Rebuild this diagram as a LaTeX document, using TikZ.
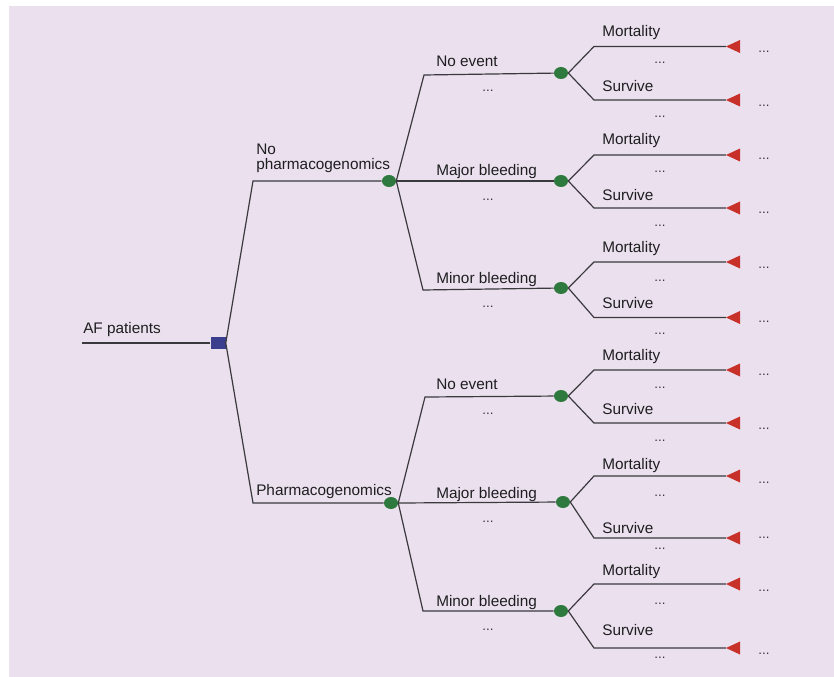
\documentclass[tikz,border=0pt]{standalone}
\usepackage{fontspec}
\setmainfont{Liberation Sans}
\usetikzlibrary{shapes.geometric}
\definecolor{bg}{RGB}{235,224,238}
\definecolor{edge}{RGB}{58,58,62}
\definecolor{decblue}{RGB}{58,62,140}
\definecolor{chgreen}{RGB}{46,122,62}
\definecolor{termred}{RGB}{200,48,42}
\definecolor{ink}{RGB}{30,30,32}
\definecolor{dotink}{RGB}{55,55,58}
\begin{document}
\begin{tikzpicture}[x=0.75pt,y=-0.75pt,
  branch/.style={draw=edge,line width=0.9pt,line join=miter},
  decision/.style={rectangle,fill=decblue,minimum width=11.25pt,minimum height=9pt,inner sep=0pt},
  chance/.style={ellipse,fill=chgreen,minimum width=10.5pt,minimum height=9pt,inner sep=0pt},
  terminal/.style={fill=termred},
  lbl/.style={anchor=base west,inner sep=0pt,text=ink,font=\fontsize{11.5}{13.5}\selectfont},
  more/.style={anchor=base,inner sep=0pt,text=dotink,font=\fontsize{10}{11}\selectfont}]
\useasboundingbox (0,0) rectangle (834,677);
\fill[bg] (9,6) rectangle (834,677);

% root decision
\coordinate (start) at (82,343);
\node[decision] (dec) at (218,343) {};
\draw[branch] (start) -- (dec.west);
\node[lbl] (lroot) at (83,333) {AF patients};

% strategy arms
\coordinate (sA) at (253,181);
\coordinate (sB) at (253,503);
\node[chance] (cA) at (389,181) {};
\node[chance] (cB) at (391,503) {};
\draw[branch] (dec.east) -- (sA) -- (cA);
\draw[branch] (dec.east) -- (sB) -- (cB);
\node[lbl] (lA1) at (256,155) {No};
\node[lbl] (lA2) at (256,170) {pharmacogenomics};
\node[lbl] (lB) at (256,495) {Pharmacogenomics};

% event chance nodes
\foreach \n/\x/\y in {A1/561/73, A2/561/181, A3/561/288, B1/561/396, B2/563/502, B3/561/611}
  \node[chance] (n\n) at (\x,\y) {};

\coordinate (kA1) at (424,75);
\coordinate (kA3) at (423,290);
\coordinate (kB1) at (425,397);
\coordinate (kB3) at (423,611);
\draw[branch] (cA.east) -- (kA1) -- (nA1);
\draw[branch] (cA.east) -- (nA2);
\draw[branch] (cA.east) -- (kA3) -- (nA3);
\draw[branch] (cB.east) -- (kB1) -- (nB1);
\draw[branch] (cB.east) -- (nB2);
\draw[branch] (cB.east) -- (kB3) -- (nB3);

% event labels
\foreach \t/\b/\d in {No event/67/92, Major bleeding/176/200, Minor bleeding/283/307,
                      No event/389/414, Major bleeding/498/522, Minor bleeding/606/630}{
  \node[lbl] at (436,\b) {\t};
  \node[more] at (488,\d) {...};
}

% outcome branches and terminal nodes
\foreach \n/\m/\s/\mb/\sb/\md/\sd/\mr/\sr in {
    A1/46.5/100/37/92/64/118/53/107,
    A2/155/208/145/200/172.5/226/160/214,
    A3/262/317.5/252/308/281/334/268/322,
    B1/370/423/360/414/388/441/375/429,
    B2/476/538/469/533/496/549/483/538,
    B3/584/648/575/635/604/658/591/654}{
  \coordinate (m\n) at (594,\m);
  \coordinate (s\n) at (594,\s);
  \coordinate (tm\n) at (726,\m);
  \coordinate (ts\n) at (726,\s);
  \draw[branch] (n\n.east) -- (m\n) -- (tm\n);
  \draw[branch] (n\n.east) -- (s\n) -- (ts\n);
  \fill[terminal] (tm\n) -- ++(14,-6.5) -- ++(0,13) -- cycle;
  \fill[terminal] (ts\n) -- ++(14,-6.5) -- ++(0,13) -- cycle;
  \node[lbl] at (602,\mb) {Mortality};
  \node[lbl] at (602,\sb) {Survive};
  \node[more] at (660,\md) {...};
  \node[more] at (660,\sd) {...};
  \node[more] at (764,\mr) {...};
  \node[more] at (764,\sr) {...};
}
\end{tikzpicture}
\end{document}
